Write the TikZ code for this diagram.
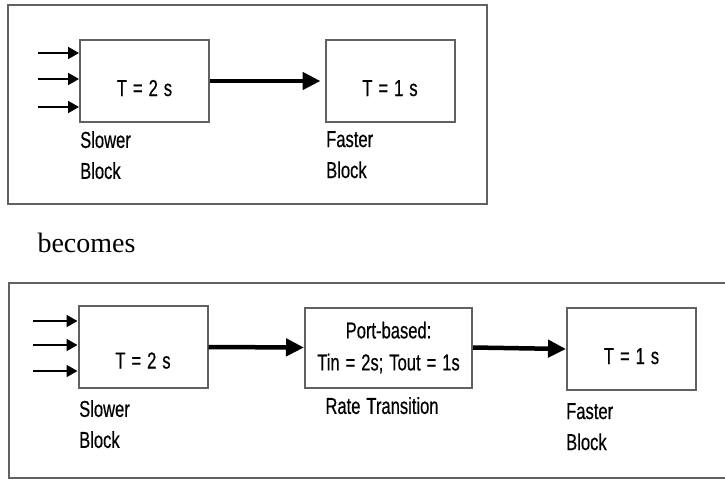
\documentclass[tikz,border=0pt]{standalone}
\usepackage{fontspec}
\usepackage{tikz}
\usetikzlibrary{arrows.meta, positioning, calc}
\setmainfont{Liberation Serif}
\newfontfamily\blkfont[FakeStretch=0.72, FakeBold=0.5, WordSpace=1.3]{Liberation Sans}

\begin{document}
\begin{tikzpicture}[x=1pt, y=-1pt,
    box/.style={draw=black!62, line width=2pt, inner sep=0pt, align=center,
        minimum height=82pt, font=\blkfont\fontsize{23}{32}\selectfont},
    block/.style={box, minimum width=129pt, text height=30pt, text depth=0pt},
    lbl/.style={font=\blkfont\fontsize{23}{31}\selectfont, align=left, inner sep=0pt},
    frame/.style={draw=black!62, line width=2pt},
    inarrow/.style={-{Triangle[length=11pt,width=12pt]}, line width=2pt},
    flow/.style={-{Triangle[length=18pt,width=17pt]}, line width=4.5pt}]
    \useasboundingbox (0,0) rectangle (725,479);

    % Original model
    \draw[frame] (8,5) rectangle (487,204);
    \node[block] (slowA) at (144.5,81) {T = 2 s};
    \node[block] (fastA) at (390,81) {T = 1 s};
    \node[lbl, anchor=north west] (slowAlbl) at (80,131) {Slower\\Block};
    \node[lbl, anchor=north west] (fastAlbl) at (326,131) {Faster\\Block};

    % Inputs
    \foreach \i/\y in {1/53, 2/79, 3/107} {
        \coordinate (inA\i) at (38,\y);
        \draw[inarrow] (inA\i) -- (inA\i -| slowA.west);
    }
    \draw[flow, shorten >=4pt] (slowA.east) -- (fastA.west);

    \node[font=\fontsize{28}{32}\selectfont, anchor=base west] (becomes) at (34,252) {becomes};

    % Model with rate transition
    \draw[frame] (9,283) rectangle (740,477.5);
    \node[block, text height=43pt] (slowB) at (143,347) {T = 2 s};
    \node[box, minimum width=167pt, minimum height=80pt] (rate) at (388.5,347.5) {Port-based:\\Tin = 2s; Tout = 1s};
    \node[block] (fastB) at (631.5,349) {T = 1 s};
    \node[lbl, anchor=north west] (slowBlbl) at (79,400) {Slower\\Block};
    \node[lbl, anchor=north] (ratelbl) at (382,397) {Rate Transition};
    \node[lbl, anchor=north west] (fastBlbl) at (566,403) {Faster\\Block};

    % Inputs
    \foreach \i/\y in {1/321, 2/345, 3/371} {
        \coordinate (inB\i) at (33,\y);
        \draw[inarrow] (inB\i) -- (inB\i -| slowB.west);
    }
    \draw[flow] (slowB.east) -- (rate.west);
    \draw[flow] (rate.east) -- (fastB.west);
\end{tikzpicture}
\end{document}
